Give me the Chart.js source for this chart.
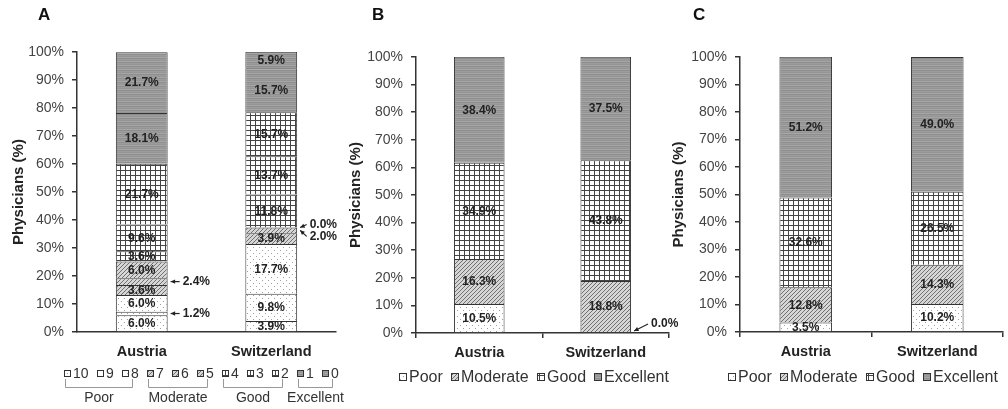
<!DOCTYPE html>
<html>
<head>
<meta charset="utf-8">
<script src="https://cdn.jsdelivr.net/npm/chart.js@4.4.0/dist/chart.umd.min.js"></script>
<style>
  body { margin: 0; background: #fff; }
  .panel { position: absolute; top: 0; height: 409px; }
</style>
</head>
<body>
<div class="panel" style="left:0;width:346px"><canvas id="chartA"></canvas></div>
<div class="panel" style="left:339px;width:340px"><canvas id="chartB"></canvas></div>
<div class="panel" style="left:663px;width:344px"><canvas id="chartC"></canvas></div>
<script>
// Physicians' ratings, Austria vs Switzerland – three stacked 0-100% bar panels

const countries = ["Austria", "Switzerland"];
const yTickLabels = ["0%", "10%", "20%", "30%", "40%", "50%", "60%", "70%", "80%", "90%", "100%"];

// panel A: 0-10 score, stacked from 10 (bottom) up to 0 (top)
const scoreLabels = ["10", "9", "8", "7", "6", "5", "4", "3", "2", "1", "0"];
const scoreGroups = ["Poor", "Poor", "Poor", "Moderate", "Moderate", "Moderate", "Good", "Good", "Good", "Excellent", "Excellent"];
const scoreAustria = [6.0, 1.2, 6.0, 3.6, 2.4, 6.0, 3.6, 9.6, 21.7, 18.1, 21.7];
const scoreSwitzerland = [3.9, 9.8, 17.7, 3.9, 2.0, 0.0, 11.8, 13.7, 15.7, 15.7, 5.9];

// panels B and C: grouped categories
const groupLabels = ["Poor", "Moderate", "Good", "Excellent"];
const bAustria = [10.5, 16.3, 34.9, 38.4];
const bSwitzerland = [0.0, 18.8, 43.8, 37.5];
const cAustria = [3.5, 12.8, 32.6, 51.2];
const cSwitzerland = [10.2, 14.3, 26.5, 49.0];

Chart.defaults.font.family = "Arial, 'Liberation Sans', Helvetica, sans-serif";
Chart.defaults.color = "#333";

// fill patterns, one per rating group
function makePattern(ctx, kind) {
  const t = document.createElement("canvas");
  const sizes = { Poor: [6, 6], Moderate: [4, 4], Good: [5, 5], Excellent: [2, 4] };
  t.width = sizes[kind][0];
  t.height = sizes[kind][1];
  const g = t.getContext("2d");
  if (kind === "Poor") {
    g.fillStyle = "#fff"; g.fillRect(0, 0, 6, 6);
    g.fillStyle = "#a0a0a0"; g.fillRect(1, 1, 1, 1); g.fillRect(4, 4, 1, 1);
  } else if (kind === "Moderate") {
    g.fillStyle = "#d6d6d6"; g.fillRect(0, 0, 4, 4);
    g.fillStyle = "#707070";
    for (let i = 0; i < 4; i++) g.fillRect(3 - i, i, 1, 1);
  } else if (kind === "Good") {
    g.fillStyle = "#fff"; g.fillRect(0, 0, 5, 5);
    g.fillStyle = "#444"; g.fillRect(0, 0, 5, 1); g.fillRect(0, 0, 1, 5);
  } else {
    ["#959595", "#a6a6a6", "#8e8e8e", "#9c9c9c"].forEach((c, i) => {
      g.fillStyle = c; g.fillRect(0, i, 2, 1);
    });
  }
  return ctx.createPattern(t, "repeat");
}

// bar value labels, small segments get an arrow and an outside label
const valueLabels = {
  id: "valueLabels",
  afterDatasetsDraw(chart, args, o) {
    const ctx = chart.ctx;
    ctx.save();
    ctx.font = "bold 12px Arial, 'Liberation Sans', sans-serif";
    ctx.fillStyle = "#222";
    ctx.strokeStyle = "#222";
    ctx.textBaseline = "middle";
    chart.data.datasets.forEach((ds, i) => {
      chart.getDatasetMeta(i).data.forEach((bar, j) => {
        const txt = ds.data[j].toFixed(1) + "%";
        const yc = (bar.y + bar.base) / 2;
        const c = (o.callouts || []).find(c => c.set === i && c.bar === j);
        if (!c) {
          ctx.textAlign = "center";
          ctx.fillText(txt, bar.x, yc + 0.5);
          return;
        }
        const right = bar.x + bar.width / 2;
        const tx = right + c.dx, ty = yc + c.dy;
        const hx = right + 3, hy = yc + (c.hy || 0);
        ctx.textAlign = "left";
        ctx.fillText(txt, tx, ty);
        ctx.lineWidth = 1.2;
        ctx.beginPath();
        ctx.moveTo(tx - 3, ty);
        ctx.lineTo(hx, hy);
        ctx.stroke();
        const a = Math.atan2(hy - ty, hx - (tx - 3));
        ctx.beginPath();
        ctx.moveTo(hx, hy);
        ctx.lineTo(hx - 5 * Math.cos(a - 0.45), hy - 5 * Math.sin(a - 0.45));
        ctx.lineTo(hx - 5 * Math.cos(a + 0.45), hy - 5 * Math.sin(a + 0.45));
        ctx.closePath();
        ctx.fill();
      });
    });
    ctx.restore();
  }
};

// panel letter + patterned legend (with group brackets on panel A)
const panelDeco = {
  id: "panelDeco",
  afterDraw(chart, args, o) {
    const ctx = chart.ctx;
    ctx.save();
    ctx.fillStyle = "#111";
    ctx.font = "bold 17px Arial, 'Liberation Sans', sans-serif";
    ctx.textBaseline = "middle";
    ctx.textAlign = "left";
    ctx.fillText(o.letter, o.letterX, 15);

    const L = o.legend;
    ctx.font = L.size + "px Arial, 'Liberation Sans', sans-serif";
    let x = L.x;
    const spans = {};
    chart.data.datasets.forEach(ds => {
      const bx = Math.round(x), by = Math.round(L.y - L.box / 2);
      ctx.fillStyle = ds.backgroundColor;
      ctx.fillRect(bx, by, L.box, L.box);
      ctx.strokeStyle = "#333";
      ctx.lineWidth = 1;
      ctx.strokeRect(bx + 0.5, by + 0.5, L.box - 1, L.box - 1);
      const tx = bx + L.box + L.gap;
      ctx.fillStyle = "#333";
      ctx.fillText(ds.label, tx, L.y + 1);
      if (ds.group) {
        const s = spans[ds.group] || (spans[ds.group] = { a: bx, b: bx });
        s.b = bx + L.box;
      }
      x = tx + ctx.measureText(ds.label).width + L.item;
    });

    if (L.brackets) {
      ctx.strokeStyle = "#999";
      ctx.lineWidth = 1;
      ctx.textAlign = "center";
      Object.keys(spans).forEach(k => {
        const s = spans[k];
        const a = s.a + 1.5, b = s.b + 3.5;
        ctx.beginPath();
        ctx.moveTo(a, L.y + 6);
        ctx.lineTo(a, L.y + 14.5);
        ctx.lineTo(b, L.y + 14.5);
        ctx.lineTo(b, L.y + 6);
        ctx.stroke();
        ctx.fillStyle = "#333";
        ctx.fillText(k, (a + b) / 2, L.y + 25);
      });
    }
    ctx.restore();
  }
};

const panels = [
  {
    id: "chartA", letter: "A", letterX: 38, padTop: 52, padRight: 10, axisW: 77, axisH: 77, titlePad: 9.5,
    labels: scoreLabels, groups: scoreGroups, austria: scoreAustria, switzerland: scoreSwitzerland,
    legend: { x: 64, y: 373, box: 7, gap: 2, item: 8.5, size: 14, brackets: true },
    callouts: [
      { set: 1, bar: 0, dx: 15, dy: 0 },
      { set: 4, bar: 0, dx: 15, dy: 0 },
      { set: 5, bar: 1, dx: 12.5, dy: -3 },
      { set: 4, bar: 1, dx: 12.5, dy: 6 }
    ],
    xTicks: false
  },
  {
    id: "chartB", letter: "B", letterX: 33, padTop: 57, padRight: 10, axisW: 77, axisH: 76, titlePad: 8,
    labels: groupLabels, groups: groupLabels, austria: bAustria, switzerland: bSwitzerland,
    legend: { x: 60, y: 377, box: 8, gap: 2, item: 8, size: 16, brackets: false },
    callouts: [{ set: 0, bar: 1, dx: 20, dy: -9, hy: -2 }],
    xTicks: true
  },
  {
    id: "chartC", letter: "C", letterX: 30, padTop: 57, padRight: 4, axisW: 77, axisH: 77, titlePad: 7,
    labels: groupLabels, groups: groupLabels, austria: cAustria, switzerland: cSwitzerland,
    legend: { x: 65, y: 377, box: 8, gap: 2, item: 8, size: 16, brackets: false },
    callouts: [],
    xTicks: true
  }
];

panels.forEach(p => {
  const canvas = document.getElementById(p.id);
  const ctx = canvas.getContext("2d");
  const fills = {};
  groupLabels.forEach(g => { fills[g] = makePattern(ctx, g); });

  const datasets = p.labels.map((lab, i) => ({
    label: lab,
    group: p.groups[i],
    data: [p.austria[i], p.switzerland[i]],
    backgroundColor: fills[p.groups[i]],
    borderColor: "#333",
    borderWidth: 1,
    barPercentage: 0.4,
    categoryPercentage: 1
  }));

  new Chart(canvas, {
    type: "bar",
    data: { labels: countries, datasets },
    options: {
      responsive: true,
      maintainAspectRatio: false,
      animation: false,
      layout: { padding: { top: p.padTop, right: p.padRight, left: 0, bottom: 0 } },
      scales: {
        x: {
          stacked: true,
          grid: { drawOnChartArea: false, drawTicks: p.xTicks, tickLength: 5, color: "#333", lineWidth: 1.5 },
          border: { color: "#333", width: 1.5 },
          ticks: { color: "#222", padding: p.xTicks ? 6 : 11, font: { size: 14.5, weight: "bold" } },
          afterFit: s => { s.height = p.axisH; }
        },
        y: {
          stacked: true,
          min: 0,
          max: 100,
          grid: { drawOnChartArea: false, tickLength: 5, color: "#333", lineWidth: 1.5 },
          border: { color: "#333", width: 1.5 },
          ticks: {
            stepSize: 10,
            padding: 8,
            color: "#444",
            font: { size: 14 },
            callback: (v, i) => yTickLabels[i]
          },
          title: {
            display: true,
            text: "Physicians (%)",
            color: "#222",
            font: { size: 15, weight: "bold" },
            padding: { top: p.titlePad, bottom: 0 }
          },
          afterFit: s => { s.width = p.axisW; }
        }
      },
      plugins: {
        legend: { display: false },
        tooltip: { enabled: false },
        valueLabels: { callouts: p.callouts },
        panelDeco: { letter: p.letter, letterX: p.letterX, legend: p.legend }
      }
    },
    plugins: [valueLabels, panelDeco]
  });
});
</script>
</body>
</html>
